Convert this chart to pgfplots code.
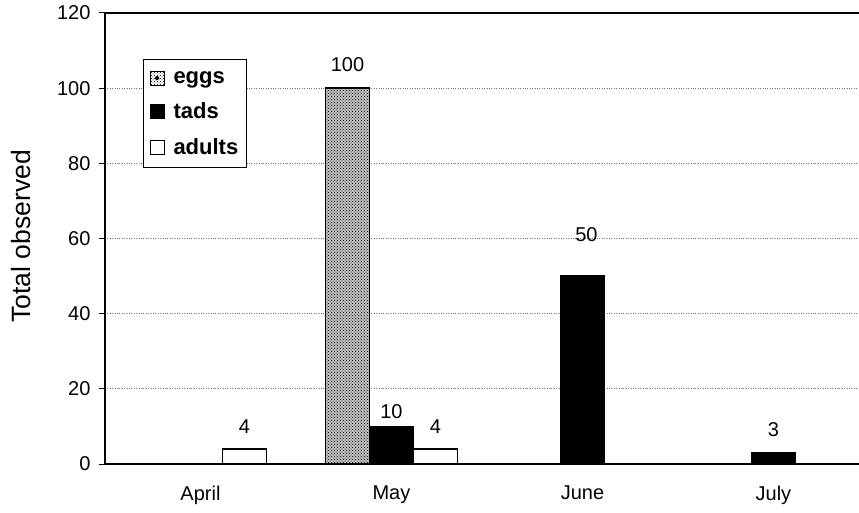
\documentclass[border=0pt]{standalone}
\usepackage{fontspec}
\setmainfont{Liberation Sans}
\usepackage{pgfplots}
\pgfplotsset{compat=1.18}
\usetikzlibrary{patterns}
\begin{document}
\begin{tikzpicture}
\begin{axis}[
  scale only axis, width=754pt, height=451pt,
  xmin=-0.5, xmax=3.448, ymin=0, ymax=120,
  ytick={0,20,...,120},
  xtick={0,1,2,3}, xticklabels={April,May,June,July},
  axis lines=left,
  axis line style={-, line width=1.6pt, black},
  tick align=outside, major tick length=6pt,
  xtick style={draw=none},
  ytick style={line width=1pt, black},
  ymajorgrids, grid style={dotted, black!55, line width=0.7pt},
  tick label style={font=\fontsize{20}{22}\selectfont},
  /pgf/number format/assume math mode=true,
  xticklabel style={yshift=-12pt},
  yticklabel style={xshift=-5pt},
  ylabel={Total observed},
  ylabel style={at={(axis description cs:-0.112,0.505)}, rotate=0, anchor=center, font=\fontsize{26.5}{30}\selectfont},
  clip=false,
  legend style={at={(axis description cs:0.0504,0.898)}, anchor=north west,
    draw=black, line width=1pt, font=\fontsize{22}{24}\selectfont\bfseries,
    row sep=14pt, column sep=7pt, inner xsep=6pt, inner ysep=10pt},
  legend cell align=left,
]
\addplot[ybar, bar width=0.23, bar shift=-0.23, draw=black, line width=1.5pt,
  fill=black!25, postaction={pattern=crosshatch dots},
  nodes near coords,
  nodes near coords style={font=\fontsize{20}{22}\selectfont, anchor=south, yshift=12pt, xshift=-44pt},
  legend image code/.code={\draw[fill=white, line width=1pt] (0pt,-7pt) rectangle (14pt,7pt); \fill (7pt,0pt) circle (1.2pt);}]
  coordinates {(1,100)};
\addlegendentry{eggs}
\addplot[ybar, bar width=0.23, bar shift=0, draw=black, line width=1.5pt, fill=black,
  nodes near coords,
  nodes near coords style={font=\fontsize{20}{22}\selectfont, anchor=south, yshift=4pt},
  legend image code/.code={\draw[fill=black, line width=1pt] (0pt,-7pt) rectangle (14pt,7pt);}]
  coordinates {(1,10)};
\addlegendentry{tads}
\addplot[ybar, bar width=0.23, bar shift=0.23, draw=black, line width=1.5pt, fill=white,
  nodes near coords,
  nodes near coords style={font=\fontsize{20}{22}\selectfont, anchor=south, yshift=11pt, xshift=44pt},
  legend image code/.code={\draw[fill=white, line width=1pt] (0pt,-7pt) rectangle (14pt,7pt);}]
  coordinates {(0,4) (1,4)};
\addlegendentry{adults}
\addplot[ybar, bar width=0.23, bar shift=0, draw=black, line width=1.5pt, fill=black, forget plot,
  nodes near coords,
  nodes near coords style={font=\fontsize{20}{22}\selectfont, anchor=south, yshift=30pt, xshift=4pt}]
  coordinates {(2,50)};
\addplot[ybar, bar width=0.23, bar shift=0, draw=black, line width=1.5pt, fill=black, forget plot,
  nodes near coords,
  nodes near coords style={font=\fontsize{20}{22}\selectfont, anchor=south, yshift=12pt}]
  coordinates {(3,3)};
\draw[line width=1.6pt] (rel axis cs:0,1) -- (rel axis cs:1,1);
\end{axis}
\pgfresetboundingbox
\path[use as bounding box] (-105pt,-48pt) rectangle (754pt,464pt);
\end{tikzpicture}
\end{document}
